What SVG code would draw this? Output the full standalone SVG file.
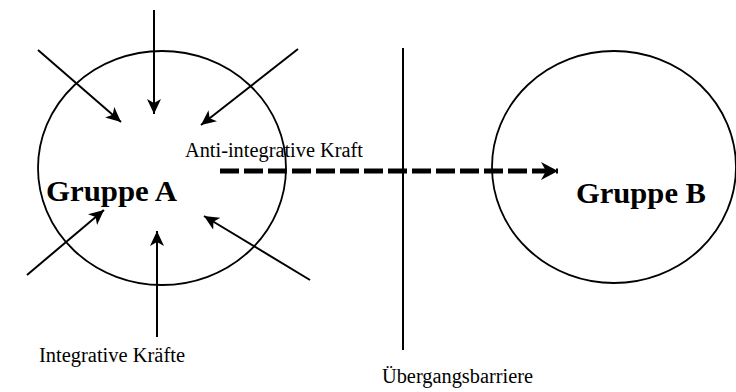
<svg xmlns="http://www.w3.org/2000/svg" width="736" height="392" viewBox="0 0 736 392">
<defs>
<style>
.ring{fill:none;stroke:#000;stroke-width:1.8}
.force{stroke:#000;stroke-width:2;fill:none}
.lbl{font-family:"Liberation Serif","Times New Roman",serif;font-size:20px;fill:#000}
.grp{font-family:"Liberation Serif","Times New Roman",serif;font-size:30px;font-weight:bold;fill:#000}
</style>
<marker id="ah" markerUnits="userSpaceOnUse" markerWidth="16" markerHeight="14" viewBox="0 0 16 14" refX="15" refY="7" orient="auto">
<path d="M0,0 L15,7 L0,14 L4,7 Z" fill="#000"/>
</marker>
<marker id="ahd" markerUnits="userSpaceOnUse" markerWidth="18" markerHeight="18" viewBox="0 0 18 18" refX="17" refY="9" orient="auto">
<path d="M0,0 L17,9 L0,18 L5,9 Z" fill="#000"/>
</marker>
</defs>
<rect width="736" height="392" fill="#fff"/>
<g id="gruppe-a">
<ellipse class="ring" cx="162" cy="168" rx="124" ry="117"/>
<text class="grp" x="46" y="201" textLength="131" lengthAdjust="spacingAndGlyphs">Gruppe A</text>
</g>
<g id="gruppe-b">
<ellipse class="ring" cx="614" cy="167" rx="122" ry="116"/>
<text class="grp" x="576" y="203" textLength="130" lengthAdjust="spacingAndGlyphs">Gruppe B</text>
</g>
<g id="barriere">
<line x1="403" y1="48" x2="403" y2="350" stroke="#000" stroke-width="2"/>
<text class="lbl" x="382" y="383" textLength="151" lengthAdjust="spacingAndGlyphs">Übergangsbarriere</text>
</g>
<g id="labels">
<text class="lbl" x="185" y="157" textLength="178" lengthAdjust="spacingAndGlyphs">Anti-integrative Kraft</text>
<text class="lbl" x="39" y="362" textLength="146" lengthAdjust="spacingAndGlyphs">Integrative Kräfte</text>
</g>
<g id="connectors">
<line class="force" x1="154" y1="10" x2="154" y2="114" marker-end="url(#ah)"/>
<line class="force" x1="38" y1="50" x2="121" y2="122" marker-end="url(#ah)"/>
<line class="force" x1="298" y1="49" x2="201" y2="125" marker-end="url(#ah)"/>
<line class="force" x1="27" y1="275" x2="104" y2="210" marker-end="url(#ah)"/>
<line class="force" x1="157" y1="337" x2="157" y2="231" marker-end="url(#ah)"/>
<line class="force" x1="310" y1="280" x2="204" y2="216" marker-end="url(#ah)"/>
<line x1="220" y1="171" x2="558" y2="171" stroke="#000" stroke-width="5" stroke-dasharray="19 5" marker-end="url(#ahd)"/>
</g>
</svg>
